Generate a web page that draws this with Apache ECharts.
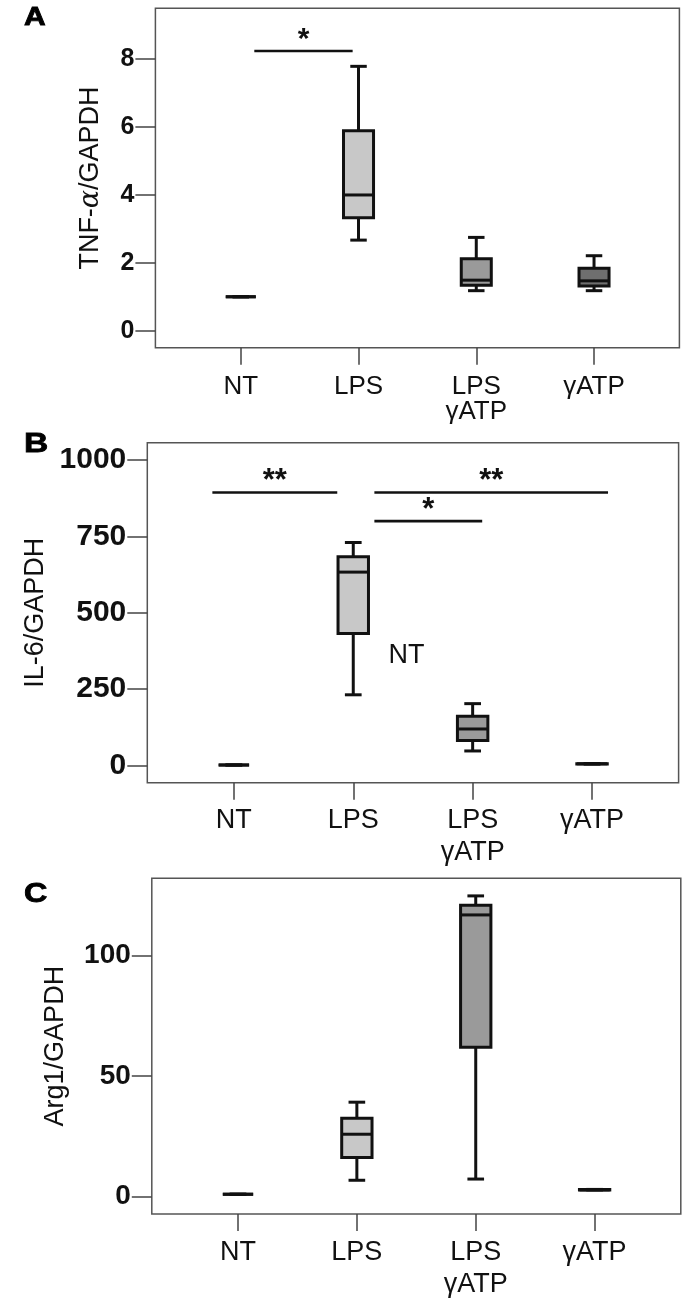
<!DOCTYPE html>
<html>
<head>
<meta charset="utf-8">
<script src="https://cdn.jsdelivr.net/npm/echarts@6/dist/echarts.min.js"></script>
<style>
  html, body { margin: 0; padding: 0; background: #fff; }
  #chart { width: 700px; height: 1310px; }
</style>
</head>
<body>
<div id="chart"></div>
<script>
// categories on every panel
const categories = ['NT', 'LPS', 'LPS\nγATP', 'γATP'];

// box values per category: [min, q1, median, q3, max]
const tnfBox = [[1, 1, 1, 1, 1], [2.67, 3.33, 4.0, 5.89, 7.79], [1.18, 1.34, 1.49, 2.12, 2.75], [1.18, 1.32, 1.47, 1.84, 2.21]];
const il6Box = [[1, 1, 1, 1, 1], [231, 432, 633, 683, 730], [47, 81, 119, 161, 202], [4, 4, 5, 5, 6]];
const arg1Box = [[1, 1, 1, 1, 1], [6.8, 16.2, 25.9, 32.5, 39.2], [7.3, 62, 116.9, 120.9, 124.8], [2.8, 2.8, 2.8, 3, 3]];

// significance bars: [fromX, toX, y, mark]
const tnfSig = [[1.115, 1.95, 8.24, '*']];
const il6Sig = [[0.82, 1.866, 894, '**'], [2.177, 4.134, 894, '**'], [2.177, 3.08, 800, '*']];
const arg1Sig = [];

// free text in panel B: [x, y, text]
const il6Notes = [[2.445, 358, 'NT']];

// y tick values
const tnfTicks = [0, 2, 4, 6, 8];
const il6Ticks = [0, 250, 500, 750, 1000];
const arg1Ticks = [0, 50, 100];

const catTicks = [1, 2, 3, 4];

// fills for the four boxes of each panel
const tnfFills = ['#c8c8c8', '#c8c8c8', '#9a9a9a', '#6f6f6f'];
const il6Fills = ['#c8c8c8', '#c8c8c8', '#9a9a9a', '#9a9a9a'];
const arg1Fills = ['#c8c8c8', '#c8c8c8', '#9a9a9a', '#9a9a9a'];

const FONT = '"Liberation Sans", Arial, sans-serif';
const INK = '#111';

const panels = [
  {
    letter: 'A', letterY: 18, letterSize: 25,
    grid: { left: 155.4, top: 8.3, width: 524, height: 339.4 },
    yMin: -0.5, yMax: 9.5, ticks: tnfTicks, yFont: 25,
    name: 'TNF-{a|α}/GAPDH', nameGap: 51,
    xFont: 26, xLine: 25, xMargin: 27,
    box: tnfBox, fills: tnfFills, sig: tnfSig, sigFont: 30, notes: []
  },
  {
    letter: 'B', letterY: 444, letterSize: 28,
    grid: { left: 147.3, top: 442.7, width: 531.3, height: 340 },
    yMin: -57, yMax: 1057, ticks: il6Ticks, yFont: 30,
    name: 'IL-6/GAPDH', nameGap: 95,
    xFont: 27, xLine: 31.7, xMargin: 22,
    box: il6Box, fills: il6Fills, sig: il6Sig, sigFont: 31, notes: il6Notes
  },
  {
    letter: 'C', letterY: 895, letterSize: 27,
    grid: { left: 151.8, top: 878.3, width: 529, height: 335.7 },
    yMin: -7.2, yMax: 132.1, ticks: arg1Ticks, yFont: 28,
    name: 'Arg1/GAPDH', nameGap: 83,
    xFont: 27, xLine: 31.7, xMargin: 22.5,
    box: arg1Box, fills: arg1Fills, sig: arg1Sig, sigFont: 28, notes: []
  }
];

function boxRenderer(fills) {
  return function (params, api) {
    const x = api.value(0);
    const lo = api.value(1), q1 = api.value(2), med = api.value(3), q3 = api.value(4), hi = api.value(5);
    const px = api.coord([x, med])[0];
    const y = v => api.coord([x, v])[1];
    const bw = api.size([0.255, 0])[0];
    const cw = api.size([0.14, 0])[0];
    const st = { stroke: INK, lineWidth: 3 };
    const seg = (x1, y1, x2, y2) => ({ type: 'line', shape: { x1, y1, x2, y2 }, style: st });
    return {
      type: 'group',
      children: [
        seg(px, y(q1), px, y(lo)),
        seg(px, y(q3), px, y(hi)),
        seg(px - cw / 2, y(lo), px + cw / 2, y(lo)),
        seg(px - cw / 2, y(hi), px + cw / 2, y(hi)),
        {
          type: 'rect',
          shape: { x: px - bw / 2, y: y(q3), width: bw, height: y(q1) - y(q3) },
          style: { fill: fills[params.dataIndex], stroke: INK, lineWidth: 3 }
        },
        seg(px - bw / 2, y(med), px + bw / 2, y(med))
      ]
    };
  };
}

function sigRenderer(rows, fontSize) {
  return function (params, api) {
    const p1 = api.coord([api.value(0), api.value(2)]);
    const p2 = api.coord([api.value(1), api.value(2)]);
    return {
      type: 'group',
      children: [
        { type: 'line', shape: { x1: p1[0], y1: p1[1], x2: p2[0], y2: p2[1] }, style: { stroke: INK, lineWidth: 2.6 } },
        {
          type: 'text',
          style: {
            x: (p1[0] + p2[0]) / 2, y: p1[1] - 11,
            text: rows[params.dataIndex][3],
            align: 'center', verticalAlign: 'middle',
            font: 'bold ' + fontSize + 'px ' + FONT, fill: INK
          }
        }
      ]
    };
  };
}

function noteRenderer(rows) {
  return function (params, api) {
    const p = api.coord([api.value(0), api.value(1)]);
    return {
      type: 'text',
      style: {
        x: p[0], y: p[1], text: rows[params.dataIndex][2],
        align: 'center', verticalAlign: 'middle',
        font: '27px ' + FONT, fill: INK
      }
    };
  };
}

const option = {
  backgroundColor: '#fff',
  animation: false,
  graphic: [],
  grid: [],
  xAxis: [],
  yAxis: [],
  series: []
};

panels.forEach((p, i) => {
  // panel letter, heavy and a little wide like the figure's
  option.graphic.push({
    type: 'text', x: 24, y: p.letterY, scaleX: 1.2, originX: 0, originY: 0,
    style: { text: p.letter, font: 'bold ' + p.letterSize + 'px ' + FONT, fill: '#000', verticalAlign: 'middle', stroke: '#000', lineWidth: 0.8 }
  });
  option.grid.push(Object.assign({ show: true, borderColor: '#555', borderWidth: 1.5, backgroundColor: 'transparent' }, p.grid));
  option.xAxis.push({
    gridIndex: i, type: 'value', min: 0.275, max: 4.725,
    axisLine: { show: false, onZero: false },
    splitLine: { show: false },
    axisTick: { show: true, customValues: catTicks, length: 17, lineStyle: { color: '#444', width: 1.5 } },
    axisLabel: {
      customValues: catTicks, margin: p.xMargin,
      formatter: v => categories[Math.round(v) - 1],
      fontFamily: FONT, fontSize: p.xFont, lineHeight: p.xLine, color: INK
    }
  });
  option.yAxis.push({
    gridIndex: i, type: 'value', min: p.yMin, max: p.yMax,
    name: p.name, nameLocation: 'middle', nameGap: p.nameGap, nameRotate: 90,
    nameTextStyle: {
      fontFamily: FONT, fontSize: 27, color: INK,
      rich: { a: { fontFamily: '"DejaVu Serif", serif', fontStyle: 'italic', fontSize: 27, color: INK } }
    },
    axisLine: { show: false, onZero: false },
    splitLine: { show: false },
    axisTick: { show: true, customValues: p.ticks, length: 20, lineStyle: { color: '#444', width: 1.5 } },
    axisLabel: {
      customValues: p.ticks, margin: 21, padding: [8, 0, 0, 0],
      formatter: v => String(v),
      fontFamily: FONT, fontWeight: 'bold', fontSize: p.yFont, color: INK
    }
  });
  option.series.push({
    type: 'custom', xAxisIndex: i, yAxisIndex: i,
    renderItem: boxRenderer(p.fills),
    encode: { x: 0, y: [1, 2, 3, 4, 5] },
    data: p.box.map((b, k) => [k + 1].concat(b))
  });
  if (p.sig.length) {
    option.series.push({
      type: 'custom', xAxisIndex: i, yAxisIndex: i,
      renderItem: sigRenderer(p.sig, p.sigFont),
      encode: { x: [0, 1], y: 2 },
      data: p.sig.map(s => [s[0], s[1], s[2]])
    });
  }
  if (p.notes.length) {
    option.series.push({
      type: 'custom', xAxisIndex: i, yAxisIndex: i,
      renderItem: noteRenderer(p.notes),
      encode: { x: 0, y: 1 },
      data: p.notes.map(n => [n[0], n[1]])
    });
  }
});

const chart = echarts.init(document.getElementById('chart'));
chart.setOption(option);
</script>
</body>
</html>
